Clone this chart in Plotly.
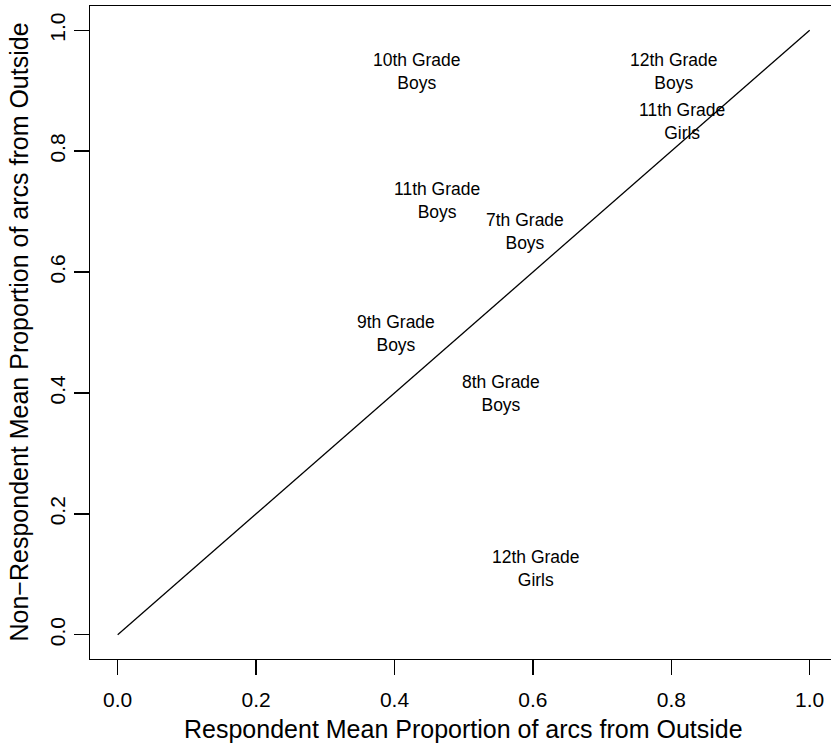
import plotly.graph_objects as go

# ---- data ----
group_line1 = ["7th Grade", "8th Grade", "9th Grade", "10th Grade", "11th Grade",
               "12th Grade", "11th Grade", "12th Grade"]
group_line2 = ["Boys", "Boys", "Boys", "Boys", "Boys", "Boys", "Girls", "Girls"]
respondent_mean = [0.588, 0.554, 0.402, 0.432, 0.461, 0.804, 0.815, 0.605]
nonrespondent_mean = [0.667, 0.399, 0.498, 0.932, 0.719, 0.932, 0.849, 0.109]

diag_x = [0.0, 1.0]
diag_y = [0.0, 1.0]

tick_vals = [0.0, 0.2, 0.4, 0.6, 0.8, 1.0]
tick_text = ["0.0", "0.2", "0.4", "0.6", "0.8", "1.0"]

x_title = "Respondent Mean Proportion of arcs from Outside"
y_title = "Non\u2212Respondent Mean Proportion of arcs from Outside"

FONT = "Liberation Sans, Arial, Helvetica, sans-serif"

fig = go.Figure()
fig.add_trace(go.Scatter(x=diag_x, y=diag_y, mode="lines",
                         line=dict(color="black", width=1.3),
                         hoverinfo="skip", showlegend=False))

annotations = []
for l1, l2, xv, yv in zip(group_line1, group_line2, respondent_mean, nonrespondent_mean):
    annotations.append(dict(x=xv, y=yv, xref="x", yref="y", text=l1 + "<br>" + l2,
                            showarrow=False, align="center",
                            xanchor="center", yanchor="middle",
                            font=dict(size=17.5, color="black", family=FONT)))

annotations.append(dict(x=0.5, y=0, xref="x", yref="paper", text=x_title, showarrow=False,
                        xanchor="center", yanchor="middle", yshift=-70,
                        font=dict(size=25, color="black", family=FONT)))
annotations.append(dict(x=0, y=0.5, xref="paper", yref="y", text=y_title, showarrow=False,
                        xanchor="center", yanchor="middle", xshift=-72, textangle=-90,
                        font=dict(size=25, color="black", family=FONT)))

axis_common = dict(showgrid=False, zeroline=False, showline=True, linecolor="black",
                   linewidth=1.3, ticks="outside", ticklen=15, tickwidth=1.3,
                   tickcolor="black", tickvals=tick_vals, ticktext=tick_text,
                   tickfont=dict(size=21, color="black", family=FONT))

fig.update_layout(
    width=831, height=745,
    margin=dict(l=90, r=0, t=6, b=86),
    paper_bgcolor="white", plot_bgcolor="white",
    showlegend=False,
    font=dict(family=FONT, color="black"),
    xaxis=dict(range=[-0.04, 1.0308], mirror=True, ticklabelstandoff=6, **axis_common),
    yaxis=dict(range=[-0.04, 1.04], mirror=False, tickangle=-90, **axis_common),
    annotations=annotations,
)

fig.write_html("out.html",
               config={"displayModeBar": False, "staticPlot": True},
               post_script="document.body.style.margin='0';document.body.style.overflow='hidden';")
